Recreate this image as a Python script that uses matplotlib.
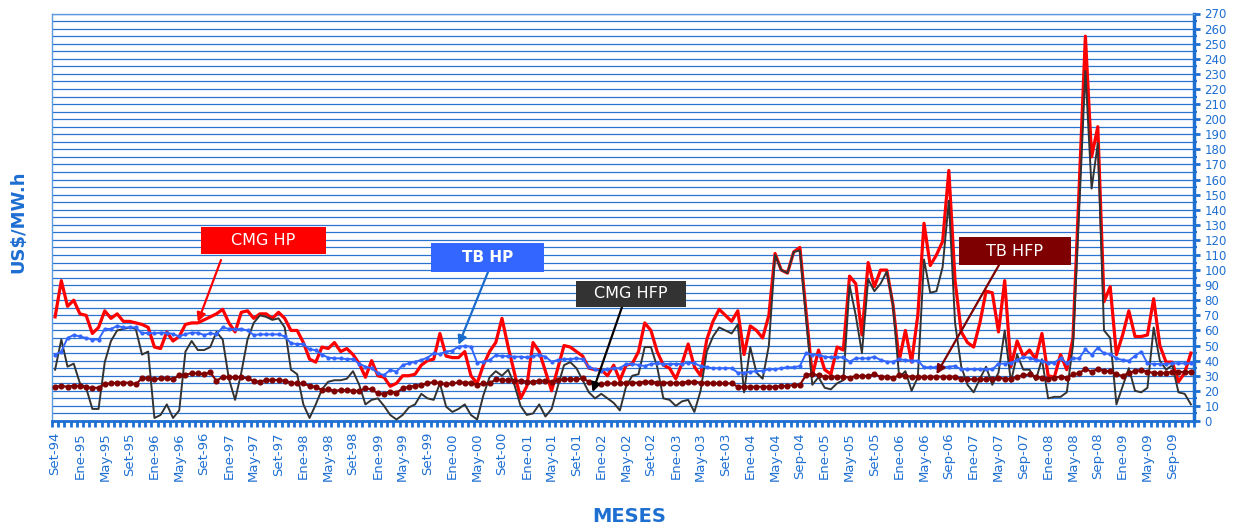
import numpy as np
import matplotlib
matplotlib.use('Agg')
import matplotlib.pyplot as plt
from matplotlib.patches import Rectangle

# ---------------- data ----------------
tick_labels = ['Set-94', 'Ene-95', 'May-95', 'Set-95', 'Ene-96', 'May-96', 'Set-96',
               'Ene-97', 'May-97', 'Set-97', 'Ene-98', 'May-98', 'Set-98', 'Ene-99',
               'May-99', 'Set-99', 'Ene-00', 'May-00', 'Set-00', 'Ene-01', 'May-01',
               'Set-01', 'Ene-02', 'May-02', 'Set-02', 'Ene-03', 'May-03', 'Set-03',
               'Ene-04', 'May-04', 'Sep-04', 'Ene-05', 'May-05', 'Set-05', 'Ene-06',
               'May-06', 'Sep-06', 'Ene-07', 'May-07', 'Sep-07', 'Ene-08', 'May-08',
               'Sep-08', 'Ene-09', 'May-09', 'Sep-09']

cmg_hp = [69, 93, 76, 80, 71, 70, 58, 62, 73, 68,
          71, 66, 66, 65, 64, 62, 49, 48, 59, 53,
          56, 64, 65, 65, 67, 69, 71, 74, 65, 59,
          72, 73, 68, 71, 71, 68, 72, 68, 60, 60,
          52, 41, 39, 49, 48, 52, 46, 48, 44, 38,
          29, 40, 30, 29, 23, 25, 30, 30, 31, 37,
          40, 41, 58, 43, 42, 42, 46, 30, 25, 37,
          46, 52, 68, 49, 32, 15, 23, 52, 46, 33,
          20, 35, 50, 49, 46, 43, 35, 34, 34, 30,
          37, 27, 37, 38, 46, 65, 60, 46, 37, 35,
          28, 38, 51, 36, 30, 54, 66, 74, 70, 66,
          73, 44, 63, 60, 55, 70, 111, 100, 98, 112,
          115, 72, 30, 47, 34, 31, 49, 47, 96, 91,
          57, 105, 89, 100, 100, 77, 40, 60, 39, 70,
          131, 103, 110, 119, 166, 93, 59, 52, 49, 65,
          86, 85, 59, 93, 36, 53, 43, 47, 41, 58,
          30, 29, 44, 34, 55, 155, 255, 175, 195, 79,
          89, 44, 57, 73, 56, 56, 57, 81, 50, 39,
          39, 26, 32, 45]

cmg_hfp = [34, 54, 36, 38, 25, 22, 8, 8, 39, 53,
           60, 61, 62, 61, 44, 46, 2, 4, 11, 2,
           7, 46, 53, 47, 47, 49, 59, 54, 28, 14,
           32, 54, 65, 70, 69, 67, 68, 62, 34, 31,
           11, 2, 11, 21, 26, 27, 27, 28, 33, 24,
           11, 14, 15, 10, 4, 1, 4, 9, 11, 18,
           15, 14, 25, 9.5, 6, 8, 11, 4, 1, 17,
           29, 33, 30, 34, 24, 10, 4, 5, 11, 3,
           8, 23, 37, 39, 35, 27, 19, 15, 18, 15,
           12, 7, 23, 30, 31, 49, 49, 36, 15, 14,
           10, 13, 14, 6, 20, 46, 56, 62, 60, 58,
           64, 19, 49, 32, 28, 50, 110, 100, 98, 112,
           113, 68, 24, 29, 22, 21, 25, 27, 90, 70,
           45, 94, 86, 91, 99, 77, 29, 33, 20, 29,
           107, 85, 86, 102, 146, 65, 36, 24, 19, 28,
           36, 24, 32, 60, 26, 44, 34, 34, 27, 41,
           15, 16, 16, 19, 50, 140, 232, 154, 184, 60,
           55, 11, 23, 35, 20, 19, 22, 62, 40, 34,
           37, 19, 18, 11]

tb_hp = [44, 46, 55, 57, 56, 55, 54, 54, 61, 61,
         63, 62, 62, 62, 58, 58.5, 58, 58.5, 58.5, 57.6,
         56, 57.6, 58.5, 58.5, 57, 58, 57.6, 62, 61, 60.7,
         61, 60, 57, 57.4, 57.4, 57.4, 57.4, 56, 51.5, 51,
         51, 47.4, 47, 44, 42, 41.5, 41.5, 41, 41, 38,
         36, 35, 31.6, 30.5, 33.8, 32.7, 37, 38.2, 39.3, 40.4,
         42, 44.8, 44.4, 46, 46.6, 49.3, 49.7, 49.3, 38.7, 39.3,
         40.4, 43.5, 43, 43, 42.6, 42.6, 42.2, 43, 43.8, 42.6,
         39.3, 40.4, 41, 41, 41.5, 41, 35.6, 34.3, 33.4, 34.3,
         35, 35, 37.8, 37.8, 37.2, 36.4, 37.8, 38.2, 37.8, 37.8,
         37.8, 37.8, 38.7, 38.2, 36.4, 35.6, 35, 35, 35, 35,
         32, 32, 32.7, 33, 33.3, 34.3, 34.3, 35, 35.6, 35.6,
         36.4, 45, 44, 43.8, 42.6, 42.2, 42.2, 42.2, 39.3, 41.5,
         41.5, 41.5, 42.6, 40.4, 39.3, 39.3, 40.9, 40.4, 40, 40,
         35.6, 35.6, 35.6, 35.6, 36, 36.4, 34.2, 34.2, 34.2, 34.2,
         34.2, 34.2, 38, 38, 38.6, 40.4, 42.2, 42, 40.4, 40,
         38.2, 38.7, 41.5, 38.2, 41.5, 41.5, 47.5, 43.8, 48.6, 44.8,
         44.4, 41.5, 40.4, 40, 43.1, 46, 38.2, 37.8, 37.8, 37.8,
         38.2, 38.2, 38.2, 38.2]

tb_hfp = [22.7, 23.2, 22.7, 23.4, 23.2, 22.3, 22, 22, 24.5, 24.9,
          25.4, 25.4, 25.4, 24.3, 28.3, 28.3, 27.6, 28.3, 28.3, 27.6,
          30.5, 30.5, 31.6, 31.6, 31, 32.3, 26.5, 29.4, 29, 29,
          29, 28.3, 26.5, 26, 27.2, 27.2, 27.2, 26.7, 25.4, 24.9,
          24.9, 23.2, 22.7, 20.5, 21, 20, 20.5, 20.5, 20, 20,
          21.6, 21, 18.3, 17.9, 19.5, 18.8, 21.6, 22.7, 23.2, 23.9,
          24.9, 26, 24.9, 24.5, 24.9, 25.6, 25.4, 25.4, 23.9, 24.9,
          24.9, 27.6, 27.2, 27.2, 26.7, 26.7, 26, 26, 26.7, 26.7,
          26, 27.2, 27.6, 27.6, 27.6, 28.3, 26, 24.5, 24.5, 24.9,
          24.9, 24.9, 25.4, 25.4, 25.4, 26, 26, 25.4, 25.4, 25.4,
          24.9, 25.4, 26, 26, 25.4, 25.4, 24.9, 24.9, 24.9, 24.9,
          22.7, 22.7, 22.7, 22.7, 22.7, 22.7, 22.7, 23.2, 23.2, 23.9,
          23.9, 30.5, 31.2, 30.2, 29.4, 29.4, 29.4, 29.4, 28.7, 29.8,
          29.8, 29.8, 30.9, 29.4, 29.4, 28.7, 30.2, 29.8, 29.4, 29.4,
          29.2, 29.4, 29.4, 29.4, 29.4, 29.4, 28, 27.6, 27.6, 27.6,
          27.6, 28, 28.7, 28, 28, 29.4, 30.2, 30.9, 29.4, 28.7,
          28, 28.7, 29.4, 28.7, 30.9, 31.6, 34.7, 32.5, 34.7, 33.1,
          33.1, 30.9, 29.8, 32, 33.1, 33.8, 32.5, 32, 31.6, 32,
          32.5, 32.5, 32.5, 32.5]

# ---------------- figure ----------------
W, H = 1236, 531
BLUE = '#1e6fd2'
fig = plt.figure(figsize=(W / 100, H / 100), dpi=100)
ax = fig.add_axes([52 / W, 1 - 421 / H, (1194 - 52) / W, (421 - 13.5) / H])

n = len(cmg_hp)
x = np.arange(n)
ax.plot(x, cmg_hp, color='#ff0000', lw=2.3, zorder=3, solid_joinstyle='round')
ax.plot(x, cmg_hfp, color='#333333', lw=1.4, zorder=4)
ax.plot(x, tb_hp, color='#3366ff', lw=1.4, marker='o', ms=2, zorder=5)
ax.plot(x, tb_hfp, color='#800000', lw=1.5, marker='o', ms=3.4, zorder=6)

ax.set_xlim(-0.5, n - 0.5)
ax.set_ylim(0, 270)

# y axis on the right
ax.yaxis.tick_right()
ax.set_yticks(np.arange(0, 271, 10))
ax.set_yticks(np.arange(5, 271, 10), minor=True)
ax.tick_params(axis='y', which='major', length=4, width=2, color=BLUE,
               labelsize=8.5, labelcolor=BLUE, pad=3.5)
ax.tick_params(axis='y', which='minor', length=2, width=1.5, color=BLUE)
ax.grid(True, which='both', axis='y', color='#2a74d0', lw=0.9)
ax.set_axisbelow(True)

# x axis
ax.set_xticks(np.arange(0, n, 4))
ax.set_xticklabels(tick_labels, rotation=90)
ax.set_xticks(np.arange(-0.5, n, 1), minor=True)
ax.tick_params(axis='x', which='major', length=0, pad=8, labelsize=9.5,
               labelcolor=BLUE)
ax.tick_params(axis='x', which='minor', length=4, width=2, color=BLUE,
               direction='out')

for side, lw, c in [('right', 2.5, BLUE), ('left', 1.0, '#5a9ae0'),
                    ('top', 1.0, '#5a9ae0'), ('bottom', 2.0, BLUE)]:
    ax.spines[side].set_linewidth(lw)
    ax.spines[side].set_color(c)

fig.text(18 / W, 1 - 222 / H, 'US$/MW.h', rotation=90, color=BLUE,
         fontsize=13, fontweight='bold', ha='center', va='center')
fig.text(629 / W, 1 - 517 / H, 'MESES', color=BLUE, fontsize=14,
         fontweight='bold', ha='center', va='center')


# ---------------- callouts ----------------
def callout(x0, y0, x1, y1, fc, text, bold, start, tip, acolor):
    fig.patches.append(Rectangle((x0 / W, 1 - y1 / H), (x1 - x0) / W, (y1 - y0) / H,
                                 transform=fig.transFigure, fc=fc, ec='none',
                                 zorder=10))
    fig.text((x0 + x1) / 2 / W, 1 - (y0 + y1) / 2 / H, text, color='white',
             ha='center', va='center', fontsize=11 if bold else 11.5,
             fontweight='bold' if bold else 'normal', zorder=11)
    ax.annotate('', xy=tip, xycoords='data', xytext=(start[0], H - start[1]),
                textcoords='figure pixels', annotation_clip=False, zorder=8,
                arrowprops=dict(arrowstyle='-|>', color=acolor, lw=1.6,
                                mutation_scale=13, shrinkA=0, shrinkB=0))


callout(201, 227, 326, 254, '#ff0000', 'CMG HP', False, (221, 260), (23, 65.6), '#ff0000')
callout(431, 243, 544, 272, '#3366ff', 'TB HP', True, (488, 272), (65, 50.4), '#1a6bcc')
callout(576, 281, 686, 307, '#333333', 'CMG HFP', False, (622, 307), (86.6, 19.2), '#000000')
callout(959, 237, 1071, 265, '#7f0000', 'TB HFP', False, (999, 265), (142, 31), '#7f0000')

fig.savefig('out.png', dpi=100)
